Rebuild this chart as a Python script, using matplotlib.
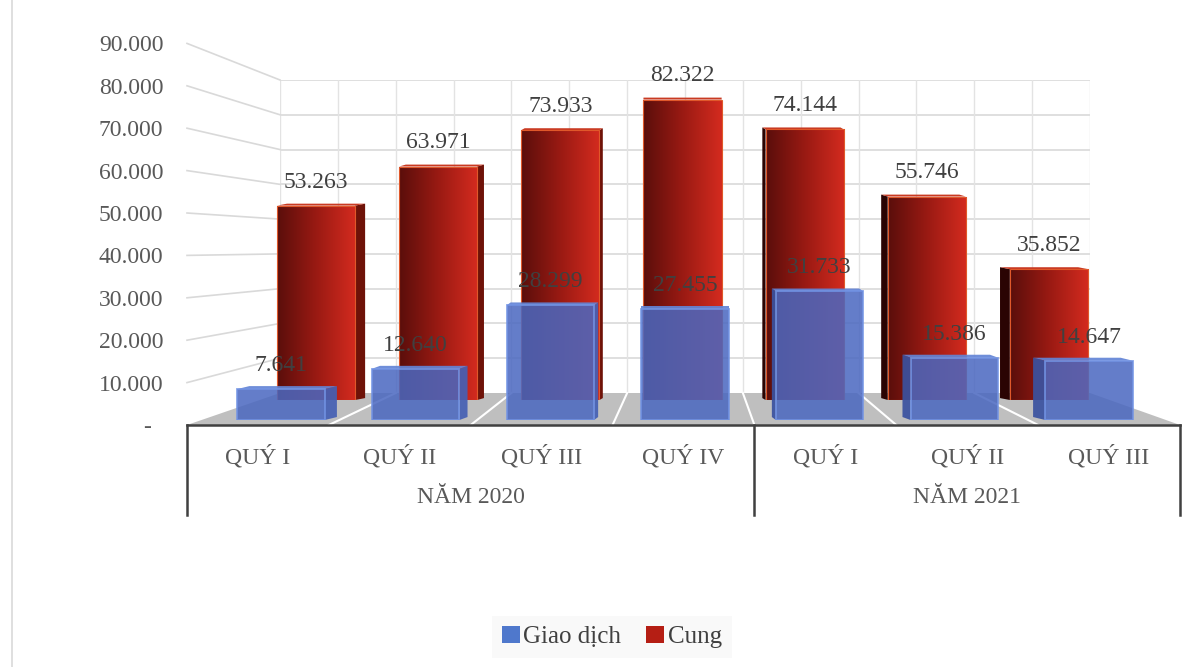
import numpy as np
import matplotlib
matplotlib.use('Agg')
import matplotlib.pyplot as plt
from matplotlib.patches import Polygon, Patch
from matplotlib.lines import Line2D
from matplotlib.colors import LinearSegmentedColormap
from matplotlib import transforms

plt.rcParams['font.family'] = ['Liberation Serif', 'DejaVu Serif']

# data
quarters = ['QUÝ I', 'QUÝ II', 'QUÝ III', 'QUÝ IV', 'QUÝ I', 'QUÝ II', 'QUÝ III']
years = ['NĂM 2020', 'NĂM 2021']
year_sizes = [4, 3]
giao_dich = [7641, 12640, 28299, 27455, 31733, 15386, 14647]
cung = [53263, 63971, 73933, 82322, 74144, 55746, 35852]
y_ticks = [0, 10000, 20000, 30000, 40000, 50000, 60000, 70000, 80000, 90000]
series_names = ['Giao dịch', 'Cung']

W, H = 1192, 667
fig = plt.figure(figsize=(W / 100, H / 100), dpi=100)
txt = '#595959'
fs = 17


def box(x0, x1, y_bot, y_top):
    # rectangle given in pixels (y from top) -> figure fraction
    return [x0 / W, 1 - y_bot / H, (x1 - x0) / W, (y_bot - y_top) / H]


def fmt(v):
    return '-' if v == 0 else f'{v:,}'.replace(',', '.')


n = len(quarters)
ymax = y_ticks[-1]

# back wall
ax_wall = fig.add_axes(box(280, 1090, 393, 80), zorder=0)
ax_wall.set_xlim(0, 2 * n)
ax_wall.set_ylim(0, ymax)
for v in y_ticks[1:]:
    ax_wall.axhline(v, color='#d9d9d9', lw=1.2)
for k in range(2 * n + 1):
    ax_wall.axvline(k, color='#e3e3e3', lw=1)
ax_wall.axis('off')

# front axes: ticks, category band
ax_front = fig.add_axes(box(187, 1180, 425, 425 - 381.6), zorder=3)
ax_front.set_xlim(-0.5, n - 0.5)
ax_front.set_ylim(0, ymax)
ax_front.patch.set_visible(False)
for s in ['top', 'right', 'left']:
    ax_front.spines[s].set_visible(False)
ax_front.spines['bottom'].set_color('#404040')
ax_front.spines['bottom'].set_linewidth(1.8)
ax_front.set_yticks(y_ticks)
ax_front.set_yticklabels([fmt(v) if v else '-  ' for v in y_ticks], color=txt, fontsize=fs)
ax_front.tick_params(axis='y', length=0, pad=17)
ax_front.set_xticks([])
blend = transforms.blended_transform_factory(ax_front.transData, ax_front.transAxes)
for i, q in enumerate(quarters):
    ax_front.text(i, -0.084, q, transform=blend, ha='center', va='center', color=txt, fontsize=fs)
start = 0
edges = [-0.5]
for name, size in zip(years, year_sizes):
    ax_front.text(start + (size - 1) / 2, -0.19, name, transform=blend, ha='center', va='center',
                  color=txt, fontsize=fs)
    start += size
    edges.append(start - 0.5)
for e in edges:
    ax_front.plot([e, e], [0, -0.235], transform=blend, color='#404040', lw=1.8, clip_on=False)

# floor and left wall, joining front axes to back wall
to_fig = fig.transFigure.inverted()


def pt(ax, x, y):
    return to_fig.transform(ax.transData.transform((x, y)))


floor = [pt(ax_front, -0.5, 0), pt(ax_front, n - 0.5, 0), pt(ax_wall, 2 * n, 0), pt(ax_wall, 0, 0)]
fig.add_artist(Polygon(floor, closed=True, facecolor='#bfbfbf', edgecolor='none',
                       transform=fig.transFigure, zorder=0.5))
for i in range(1, n):
    a, b = pt(ax_front, i - 0.5, 0), pt(ax_wall, 2 * i, 0)
    fig.add_artist(Line2D([a[0], b[0]], [a[1], b[1]], color='white', lw=1.5,
                          transform=fig.transFigure, zorder=0.6))
for v in y_ticks[1:]:
    a, b = pt(ax_front, -0.5, v), pt(ax_wall, 0, v)
    fig.add_artist(Line2D([a[0], b[0]], [a[1], b[1]], color='#d9d9d9', lw=1.2,
                          transform=fig.transFigure, zorder=0.5))

fig.add_artist(Line2D([12 / W, 12 / W], [0, 1], color='#d9d9d9', lw=1.2, transform=fig.transFigure))

vp_x = (280 + 1090) / 2  # vanishing x in pixels


def depth_faces(ax, bars, k, dy_px, side_cols, top_col, z, alpha=1.0):
    bb = ax.get_position()
    ux = bb.width * W / (ax.get_xlim()[1] - ax.get_xlim()[0])
    uy = bb.height * H / (ax.get_ylim()[1] - ax.get_ylim()[0])
    for b in bars:
        xl, w, v = b.get_x(), b.get_width(), b.get_height()
        xr = xl + w
        xc_px = ax.transData.transform((xl + w / 2, 0))[0]
        dx = (vp_x - xc_px) * k / ux
        dy = dy_px / uy
        edge = xr if dx > 0 else xl
        col = side_cols[0] if dx > 0 else side_cols[1]
        ax.add_patch(Polygon([(edge, 0), (edge, v), (edge + dx, v + dy), (edge + dx, dy)],
                             facecolor=col, edgecolor='none', zorder=z, alpha=alpha))
        ax.add_patch(Polygon([(xl, v), (xr, v), (xr + dx, v + dy), (xl + dx, v + dy)],
                             facecolor=top_col, edgecolor='none', zorder=z, alpha=alpha))


# red bars (back row)
ax_red = fig.add_axes(box(255, 1110, 400, 400 - 328.5), zorder=1)
ax_red.patch.set_visible(False)
x = np.arange(n)
red_bars = ax_red.bar(x, cung, width=0.64, color='#a51c14', zorder=2)
depth_faces(ax_red, red_bars, 0.027, 2, ('#6e1208', '#2a0403'), '#c93a22', 1)
cmap = LinearSegmentedColormap.from_list('red3d', ['#5a0e0b', '#9a1a13', '#d42b1f'])
grad = np.linspace(0, 1, 256).reshape(1, -1)
for b in red_bars:
    im = ax_red.imshow(grad, extent=[b.get_x(), b.get_x() + b.get_width(), 0, b.get_height()],
                       aspect='auto', cmap=cmap, zorder=2.1)
    im.set_clip_path(b)
ax_red.bar(x, cung, width=0.64, fill=False, edgecolor='#e0582a', lw=0.8, zorder=2.2)
for i, v in enumerate(cung):
    ax_red.annotate(fmt(v), (i, v), xytext=(0, 13), textcoords='offset points',
                    ha='center', va='baseline', color='#404040', fontsize=fs)
ax_red.set_xlim(-0.5, n - 0.5)
ax_red.set_ylim(0, ymax)
ax_red.axis('off')

# blue bars (front row)
ax_blue = fig.add_axes(box(213.7, 1156.3, 420, 420 - 364.5), zorder=2)
ax_blue.patch.set_visible(False)
blue_bars = ax_blue.bar(x, giao_dich, width=0.65, color='#4b68c0', edgecolor='#7394e4',
                        lw=1.3, alpha=0.86, zorder=2)
depth_faces(ax_blue, blue_bars, 0.03, 8, ('#4560b4', '#3a52a0'), '#6384d6', 1, alpha=0.92)
for i, v in enumerate(giao_dich):
    ax_blue.annotate(fmt(v), (i, v), xytext=(0, 13), textcoords='offset points',
                     ha='center', va='baseline', color='#404040', fontsize=fs, zorder=5)
ax_blue.set_xlim(-0.5, n - 0.5)
ax_blue.set_ylim(0, ymax)
ax_blue.axis('off')

handles = [Patch(facecolor='#4f78cc'), Patch(facecolor='#b51e14')]
fig.legend(handles, series_names, loc='center', bbox_to_anchor=(612 / W, 1 - 637 / H), ncol=2,
           frameon=True, facecolor='#f8f8f8', edgecolor='none', fancybox=False,
           handlelength=0.7, handleheight=0.7, handletextpad=0.15, columnspacing=1.0,
           prop={'size': 18}, labelcolor='#404040')

fig.savefig('out.png', dpi=100, facecolor='white')
